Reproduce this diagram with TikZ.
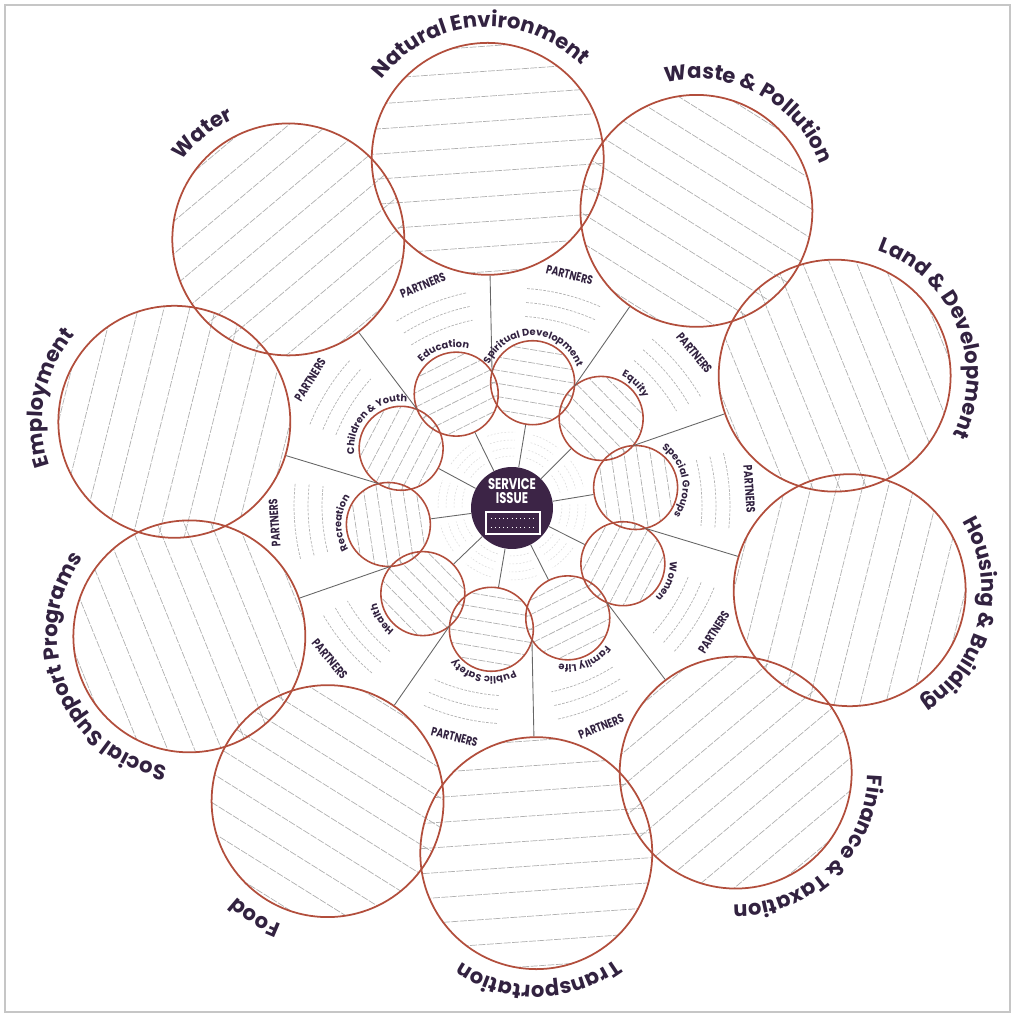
\documentclass[tikz,border=0pt]{standalone}
\usepackage{fontspec}
\setmainfont{Poppins}
\newfontfamily\narrowfont[FakeStretch=0.75]{Poppins}
\usepackage{tikz}
\usetikzlibrary{decorations.text, calc}
\definecolor{ringred}{RGB}{178,78,60}
\definecolor{inkpurple}{RGB}{50,34,64}
\definecolor{issuefill}{RGB}{60,36,70}
\newcommand{\outerfont}{\fontsize{12}{14}\selectfont\bfseries}
\newcommand{\innerfont}{\fontsize{5.6}{6.5}\selectfont\bfseries}

\begin{document}
\begin{tikzpicture}[
    x=0.02cm, y=0.02cm,
    bigring/.style={circle, draw=ringred, line width=1pt, minimum size=4.64cm, inner sep=0pt},
    smallring/.style={circle, draw=ringred, line width=0.9pt, minimum size=1.68cm, inner sep=0pt},
    hatchline/.style={gray!62, line width=0.4pt, dash pattern=on 4pt off 0.8pt},
    spoke/.style={black!60, line width=0.5pt},
    writeline/.style={gray!60, line width=0.4pt, dash pattern=on 1.5pt off 0.8pt},
    faintline/.style={gray!30, line width=0.3pt, dash pattern=on 1pt off 1pt},
    partners/.style={font=\narrowfont\fontsize{7}{8}\selectfont\bfseries, text=inkpurple, inner sep=0pt},
    issuetext/.style={font=\narrowfont\fontsize{8.8}{8}\selectfont\bfseries, text=white, align=center, inner sep=0pt},
    issuebox/.style={draw=white, line width=0.8pt, minimum width=1.08cm, minimum height=0.44cm, inner sep=0pt}
  ]
  \useasboundingbox (-512,-511) rectangle (501,506);
  \draw[gray!45, line width=1.3pt] (-507,-506) rectangle (498,501);

  % hatching of the big circles
  \foreach \i in {0,...,9}{
    \pgfmathsetmacro\ang{94-36*\i}
    \begin{scope}
      \clip (\ang:348) circle (2.32cm);
      \begin{scope}[shift={(\ang:348)}, rotate=\ang-90]
        \foreach \k in {-5,...,4}
          \draw[hatchline] (-120,12.5+25*\k) -- (120,12.5+25*\k);
      \end{scope}
    \end{scope}
  }
  % hatching of the small circles
  \foreach \i in {0,...,9}{
    \pgfmathsetmacro\ang{116.5-36*\i}
    \begin{scope}
      \clip (\ang:125) circle (0.84cm);
      \begin{scope}[shift={(\ang:125)}, rotate=\ang-90]
        \foreach \k in {-4,...,3}
          \draw[hatchline] (-50,6.5+13*\k) -- (50,6.5+13*\k);
      \end{scope}
    \end{scope}
  }

  % faint writing lines round the centre
  \foreach \i in {0,...,9}{
    \pgfmathsetmacro\ga{98.5-36*\i}
    \foreach \rr in {1.0,1.16,1.32,1.48}
      \draw[faintline] ({\ga+11}:\rr cm) arc[start angle=\ga+11, end angle=\ga-11, radius=\rr cm];
  }

  \foreach \i in {0,...,9}
    \node[bigring] (out\i) at ({94-36*\i}:348) {};
  \foreach \i in {0,...,9}
    \node[smallring] (in\i) at ({116.5-36*\i}:125) {};

  \node[circle, fill=issuefill, minimum size=1.64cm, inner sep=0pt] (issue) at (0,-2) {};
  \node[issuetext] (issuetxt) at (0,15) {SERVICE\\ISSUE};
  \node[issuebox] (issuebox) at (1,-17) {};
  \draw[white, line width=0.4pt, dotted] ([xshift=3pt,yshift=2.5pt]issuebox.west) -- ([xshift=-3pt,yshift=2.5pt]issuebox.east);
  \draw[white, line width=0.4pt, dotted] ([xshift=3pt,yshift=-2.5pt]issuebox.west) -- ([xshift=-3pt,yshift=-2.5pt]issuebox.east);

  % spokes
  \foreach \i in {0,...,9}{
    \draw[spoke] (issue) -- (in\i);
    \coordinate (gap\i) at ({98.5-36*\i}:135);
    \draw[spoke] (out\i) -- (gap\i);
  }

  % partners
  \foreach \pa/\rot [count=\j from 0] in {112/22, 76/-14, 40/-50, 4/-86, -32/58, -68/22, -104/-14, -140/-50, -176/94, 148/58}{
    \node[partners, rotate=\rot] (part\j) at (\pa:238) {PARTNERS};
    \foreach \rr in {4.36,4.08,3.8}
      \draw[writeline] ({\pa+10}:\rr cm) arc[start angle=\pa+10, end angle=\pa-10, radius=\rr cm];
  }

  % outer labels
  \foreach \lbl/\la [count=\i from 0] in {Natural Environment/94, Waste {\&} Pollution/62, Land {\&} Development/22, Housing {\&} Building/-13, Finance {\&} Taxation/-46, Transportation/-89, Food/-122, Social Support Programs/-158, Employment/169, Water/129}{
    \pgfmathsetmacro\sa{\la+100}
    \pgfmathsetmacro\ea{\la-100}
    \path[decorate, decoration={text along path, text/.expanded={|\noexpand\outerfont|\lbl}, text align=center, text color=inkpurple}]
      (out\i.center) ++(\sa:2.64cm) arc[start angle=\sa, end angle=\ea, radius=2.64cm];
  }

  % inner labels
  \foreach \lbl/\la [count=\i from 0] in {Education/106, Spiritual Development/88, Equity/45, Special Groups/10, Women/-22, Family Life/-68, Public Safety/-101, Health/-148, Recreation/178, Children {\&} Youth/135}{
    \pgfmathsetmacro\sa{\la+110}
    \pgfmathsetmacro\ea{\la-110}
    \path[decorate, decoration={text along path, text/.expanded={|\noexpand\innerfont|\lbl}, text align=center, text color=inkpurple}]
      (in\i.center) ++(\sa:0.94cm) arc[start angle=\sa, end angle=\ea, radius=0.94cm];
  }
\end{tikzpicture}
\end{document}
